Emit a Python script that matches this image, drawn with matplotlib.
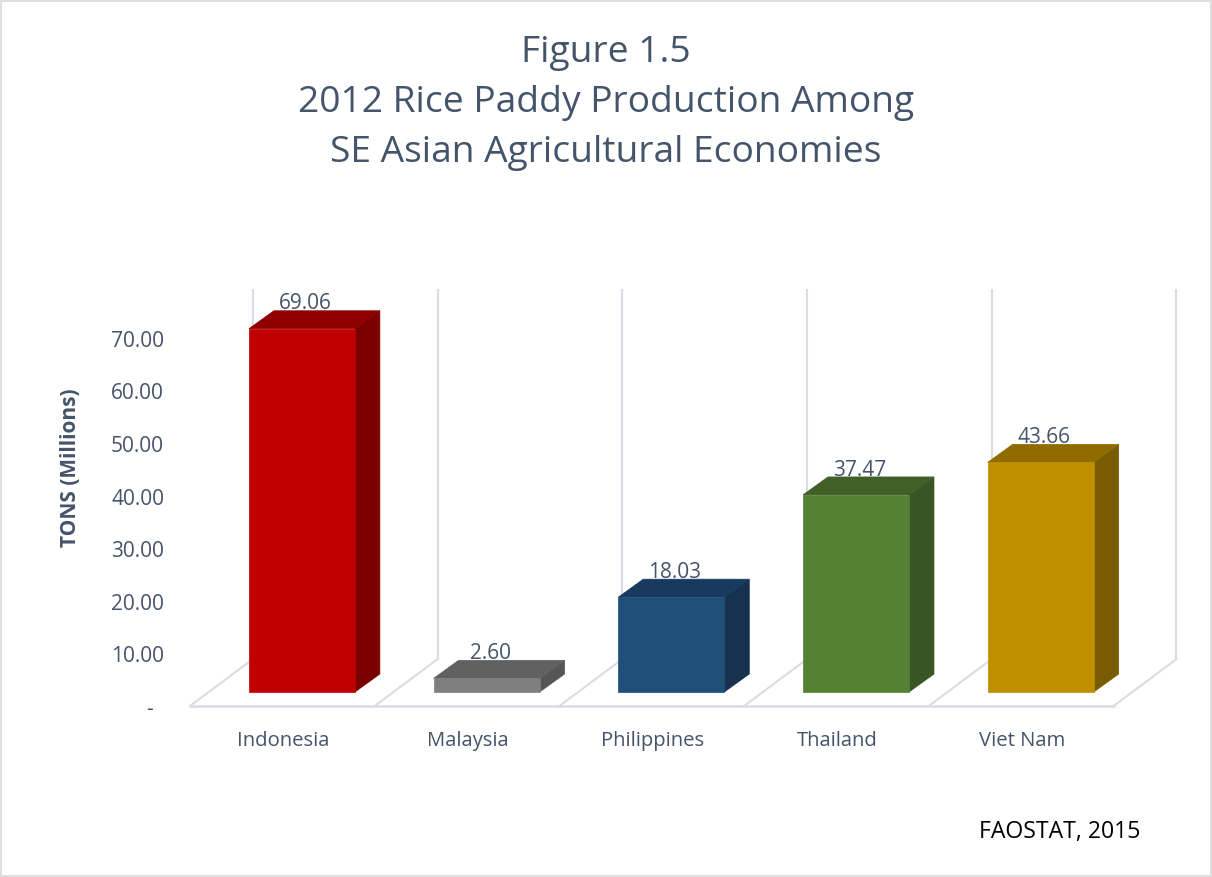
import matplotlib
matplotlib.use("Agg")
import matplotlib.pyplot as plt
from matplotlib.patches import Polygon, Rectangle
import numpy as np

countries = ["Indonesia", "Malaysia", "Philippines", "Thailand", "Viet Nam"]
values = [69.06, 2.60, 18.03, 37.47, 43.66]
value_labels = ["69.06", "2.60", "18.03", "37.47", "43.66"]
front_colors = ["#C00000", "#7F7F7F", "#1F4E79", "#548235", "#BF8F00"]
top_colors = ["#900000", "#616161", "#173A5E", "#405F29", "#8F6B00"]
side_colors = ["#7A0000", "#555555", "#16324F", "#375623", "#7A5C00"]
y_ticks = [0, 10, 20, 30, 40, 50, 60, 70]
y_tick_labels = ["-  ", "10.00", "20.00", "30.00", "40.00", "50.00", "60.00", "70.00"]

title_lines = ["Figure 1.5", "2012 Rice Paddy Production Among", "SE Asian Agricultural Economies"]
y_label = "TONS (Millions)"
source = "FAOSTAT, 2015"

TXT = "#44546A"
GRID = "#D9DCE2"
FONT = ["Open Sans", "DejaVu Sans"]
plt.rcParams["font.family"] = FONT

W, H = 1212, 878
fig = plt.figure(figsize=(W / 100, H / 100), dpi=100)
fig.patch.set_facecolor("white")
fig.add_artist(Rectangle((0.001, 0.001), 0.998, 0.997, transform=fig.transFigure,
                         fill=False, edgecolor="#D9D9D9", lw=1.2))

ax = fig.add_axes([190 / W, (H - 707) / H, 990 / W, (707 - 285) / H])
front_y = -2.66      # front edge of floor (value units)
back_y = 6.27        # back edge of floor
wall_top = 76.6
floor_dx = 0.341     # horizontal shift front->back (category units)
x_left_back = -0.265
bar_w = 0.574
ddx, ddy = 0.135, 3.42

ax.set_xlim(-0.606, 4.754)
ax.set_ylim(front_y, 77.57)
for s in ax.spines.values():
    s.set_visible(False)

n = len(countries)
backs = x_left_back + np.arange(n + 1)
for b in backs:
    ax.plot([b, b], [back_y, wall_top], color=GRID, lw=1.5, zorder=1, solid_capstyle="butt")
    ax.plot([b - floor_dx, b], [front_y, back_y], color=GRID, lw=1.5, zorder=1)
ax.plot([backs[0] - floor_dx, backs[-1] - floor_dx], [front_y, front_y], color=GRID, lw=1.8,
        zorder=1, clip_on=False)

for i, (v, fc, tc, sc) in enumerate(zip(values, front_colors, top_colors, side_colors)):
    x0, x1 = i - bar_w / 2, i + bar_w / 2
    ax.add_patch(Polygon([(x1, 0), (x1 + ddx, ddy), (x1 + ddx, v + ddy), (x1, v)],
                         closed=True, facecolor=sc, edgecolor=sc, lw=0.5, zorder=3))
    ax.add_patch(Polygon([(x0, v), (x1, v), (x1 + ddx, v + ddy), (x0 + ddx, v + ddy)],
                         closed=True, facecolor=tc, edgecolor=tc, lw=0.5, zorder=3))
    ax.add_patch(Rectangle((x0, 0), bar_w, v, facecolor=fc, edgecolor=fc, lw=0.5, zorder=4))
    ax.text(i + 0.02, v + 4.9, value_labels[i], ha="center", va="center",
            fontsize=15, color=TXT, zorder=5)

ax.set_yticks(np.array(y_ticks) + front_y)
ax.set_yticklabels(y_tick_labels)
ax.tick_params(axis="y", length=0, pad=18.7, labelsize=15, labelcolor=TXT)
ax.set_xticks(np.arange(n) - 0.1)
ax.set_xticklabels(countries)
ax.tick_params(axis="x", length=0, pad=17, labelsize=14.6, labelcolor=TXT)

fig.text(70 / W, 1 - 468 / H, y_label, rotation=90, ha="center", va="center",
         fontsize=15, fontweight="bold", color=TXT)
for k, (line, base) in enumerate(zip(title_lines, [62, 112, 162])):
    fig.text(606 / W, 1 - base / H, line, ha="center", va="baseline", fontsize=26.7,
             color=TXT)
fig.text(1140 / W, 1 - 838 / H, source, ha="right", va="baseline", fontsize=16.6,
         color="black")

fig.savefig("out.png", dpi=100, facecolor="white")
